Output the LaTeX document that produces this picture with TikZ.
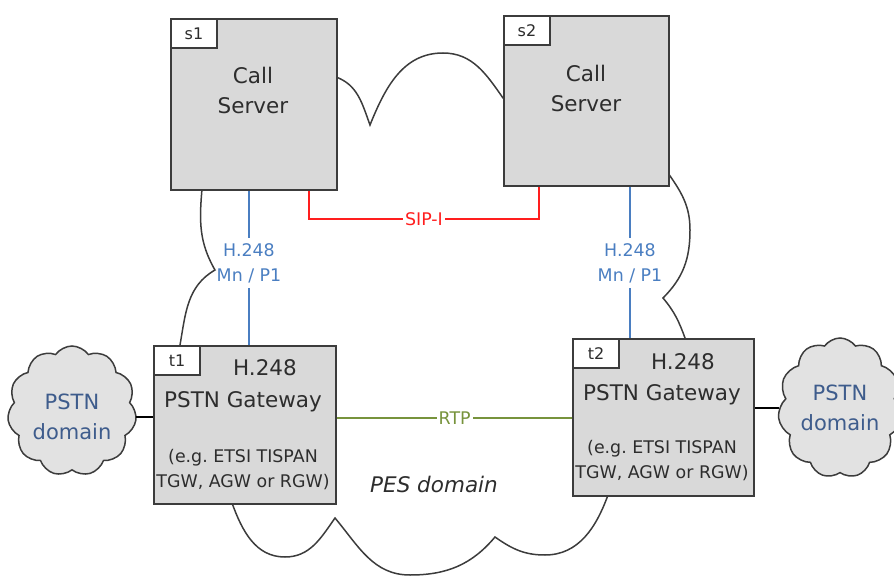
\documentclass[tikz,border=0pt]{standalone}
\usepackage{fontspec}
\setmainfont{DejaVu Sans}
\usetikzlibrary{shapes.symbols}
\frenchspacing

\definecolor{boxfill}{RGB}{217,217,217}
\definecolor{boxline}{RGB}{60,60,60}
\definecolor{textgray}{RGB}{45,45,45}
\definecolor{cloudfill}{RGB}{226,226,226}
\definecolor{pstnblue}{RGB}{62,92,140}
\definecolor{megablue}{RGB}{74,126,193}
\definecolor{sipred}{RGB}{255,30,30}
\definecolor{rtpgreen}{RGB}{119,147,60}

\begin{document}
\begin{tikzpicture}[x=0.5pt,y=-0.5pt,
	box/.style={draw=boxline,fill=boxfill,line width=1.2pt,anchor=north west,inner sep=0pt},
	tag/.style={draw=boxline,fill=white,line width=1pt,anchor=north west,inner sep=0pt,
		minimum width=23pt,minimum height=14.5pt,text=textgray,font=\fontsize{8}{9}\selectfont},
	boxtext/.style={text=textgray,inner sep=0pt,font=\fontsize{10.75}{15}\selectfont},
	smalltext/.style={text=textgray,inner sep=0pt,align=center,font=\fontsize{8.7}{12.5}\selectfont},
	pstncloud/.style={cloud,cloud puffs=11,cloud puff arc=110,draw=boxline,fill=cloudfill,
		line width=0.75pt,inner sep=0pt},
	pstntext/.style={text=pstnblue,align=center,inner sep=0pt,font=\fontsize{10.5}{15}\selectfont},
	megaco/.style={draw=megablue,line width=1pt},
	megalabel/.style={text=megablue,align=center,inner sep=2.5pt,font=\fontsize{8.7}{12.5}\selectfont},
	sip/.style={draw=sipred,line width=1pt},
	rtp/.style={draw=rtpgreen,line width=1pt},
	linklabel/.style={fill=white,inner sep=1pt,font=\fontsize{8.7}{10}\selectfont}]
	\useasboundingbox (0,0) rectangle (894,577);

	%PES DOMAIN CLOUD
	\coordinate (sOneRight) at (336,77);
	\coordinate (topCusp) at (370,125);
	\coordinate (topPeak) at (443,53);
	\coordinate (sTwoLeft) at (503,98);
	\coordinate (sTwoCorner) at (668,173);
	\coordinate (rightBulge) at (690,230);
	\coordinate (rightCusp) at (663,298);
	\coordinate (tTwoTop) at (685,338);
	\coordinate (tTwoBottom) at (608,495);
	\coordinate (lowRightMin) at (545,555);
	\coordinate (lowRightCusp) at (495,537);
	\coordinate (lowMin) at (410,575);
	\coordinate (lowLeftCusp) at (335,518);
	\coordinate (lowLeftMin) at (285,557);
	\coordinate (tOneBottom) at (232,503);
	\coordinate (tOneTop) at (180,345);
	\coordinate (leftCusp) at (215,270);
	\coordinate (sOneBottom) at (202,189);
	\draw[boxline,line width=0.75pt] (sOneRight) to[out=-20,in=110] (topCusp)
		to[out=68,in=180] (topPeak) to[out=0,in=125] (sTwoLeft) -- (sTwoCorner)
		to[out=-55,in=90] (rightBulge) to[out=-90,in=45] (rightCusp)
		to[out=-50,in=110] (tTwoTop) -- (tTwoBottom)
		to[out=-110,in=0] (lowRightMin) to[out=180,in=-35] (lowRightCusp)
		to[out=-130,in=0] (lowMin) to[out=180,in=-50] (lowLeftCusp)
		to[out=-125,in=0] (lowLeftMin) to[out=180,in=-70] (tOneBottom) -- (tOneTop)
		to[out=80,in=-150] (leftCusp) to[out=120,in=-95] (sOneBottom) -- cycle;
	\node[boxtext,font=\fontsize{10.75}{13}\selectfont\itshape] (pes) at (434,484) {PES domain};

	%BOXES
	\node[box,minimum width=83pt,minimum height=85.5pt] (s1) at (170,18) {};
	\node[box,minimum width=82.5pt,minimum height=85pt] (s2) at (503,15) {};
	\node[box,minimum width=91pt,minimum height=79pt] (t1) at (153,345) {};
	\node[box,minimum width=90.5pt,minimum height=78.5pt] (t2) at (572,338) {};
	\foreach \b in {s1,s2,t1,t2} \node[tag] (\b tag) at (\b.north west) {\b};

	%BOX TEXTS
	\node[boxtext,align=center] (s1txt) at (253,90.5) {Call\\Server};
	\node[boxtext,align=center] (s2txt) at (586,88.5) {Call\\Server};
	\node[boxtext,anchor=base] (t1mega) at (265,375) {H.248};
	\node[boxtext,anchor=base] (t1gw) at (243,407) {PSTN Gateway};
	\node[smalltext] (t1eg) at (243,470) {(e.g. ETSI TISPAN\\TGW, AGW or RGW)};
	\node[boxtext,anchor=base] (t2mega) at (683,369) {H.248};
	\node[boxtext,anchor=base] (t2gw) at (662,400) {PSTN Gateway};
	\node[smalltext] (t2eg) at (662,461) {(e.g. ETSI TISPAN\\TGW, AGW or RGW)};

	%PSTN CLOUDS
	\node[pstncloud,minimum width=64.5pt,minimum height=65pt] (pstnL) at (72,411) {};
	\node[pstntext] (pstnLtxt) at (72,417) {PSTN\\domain};
	\node[pstncloud,minimum width=62pt,minimum height=70pt] (pstnR) at (840,408) {};
	\node[pstntext] (pstnRtxt) at (840,408) {PSTN\\domain};
	\draw[black,line width=1pt] (pstnL.east |- pstnLtxt) -- (t1.west |- pstnLtxt);
	\draw[black,line width=1pt] (t2.east |- pstnR.west) -- (pstnR.west);

	%LINKS
	\node[megalabel] (megaL) at (249,263) {H.248\\Mn / P1};
	\node[megalabel] (megaR) at (630,263) {H.248\\Mn / P1};
	\foreach \m/\s/\t in {megaL/s1/t1,megaR/s2/t2} {
		\draw[megaco] (\m.north |- \s.south) -- (\m.north);
		\draw[megaco] (\m.south) -- (\m.south |- \t.north);
	}
	\coordinate (sipL) at (309,219);
	\coordinate (sipR) at (539,219);
	\draw[sip] (sipL |- s1.south) -- (sipL) -- node[linklabel,text=sipred] (sipi) {SIP-I} (sipR) -- (sipR |- s2.south);
	\draw[rtp] (t1.east |- t2.west) -- node[linklabel,text=rtpgreen] (rtpl) {RTP} (t2.west);
\end{tikzpicture}
\end{document}
